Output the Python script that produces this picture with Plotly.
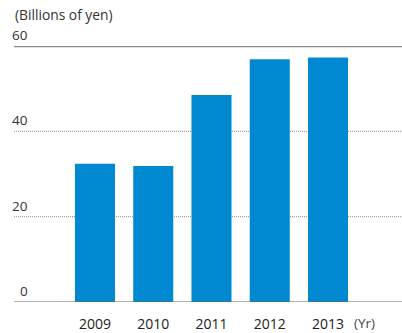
import plotly.graph_objects as go

years = ["2009", "2010", "2011", "2012", "2013"]
values = [32.4, 31.9, 48.5, 56.9, 57.3]
y_ticks = [0, 20, 40, 60]
y_tick_labels = ["0", "20", "40", "60"]

BAR = "#0088D1"
TXT = "#333333"
FONT = "Open Sans"

fig = go.Figure(go.Bar(x=list(range(len(years))), y=values, marker_color=BAR,
                       marker_line_width=0, width=0.687))

shapes = []
for v in [20, 40]:
    shapes.append(dict(type="line", xref="paper", x0=0, x1=1, yref="y", y0=v, y1=v,
                       line=dict(color="#8f8f8f", width=1, dash="1px,1px"), layer="below"))
shapes.append(dict(type="line", xref="paper", x0=0, x1=1, yref="y", y0=60, y1=60,
                   line=dict(color="#8c8c8c", width=2.5), layer="above"))
shapes.append(dict(type="line", xref="paper", x0=0, x1=1, yref="y", y0=0, y1=0,
                   line=dict(color="#666666", width=1), layer="above"))

annotations = []
for v, t in zip(y_ticks, y_tick_labels):
    annotations.append(dict(xref="paper", x=0, xshift=16, xanchor="right", yref="y", y=v,
                            yshift=11, yanchor="middle", text=t, showarrow=False,
                            font=dict(family=FONT, size=13.5, color=TXT)))
annotations.append(dict(xref="paper", x=0, xanchor="left", xshift=-1, yref="paper", y=1, yshift=32,
                        yanchor="middle", text="(Billions of yen)", showarrow=False,
                        font=dict(family=FONT, size=13.8, color=TXT)))
annotations.append(dict(xref="x", x=4.63, xanchor="center", yref="paper", y=0, yshift=-21,
                        yanchor="middle", text="(Yr)", showarrow=False,
                        font=dict(family=FONT, size=13.5, color="#444444")))

fig.update_layout(
    width=402, height=333,
    margin=dict(l=14, r=0, t=46, b=29),
    paper_bgcolor="white", plot_bgcolor="white",
    showlegend=False,
    shapes=shapes, annotations=annotations,
    xaxis=dict(range=[-1.39, 5.27], tickmode="array", tickvals=list(range(len(years))),
               ticktext=years, showgrid=False, zeroline=False, showline=False,
               ticks="", ticklabelstandoff=12,
               tickfont=dict(family=FONT, size=14, color="#222222")),
    yaxis=dict(range=[0, 60], showgrid=False, zeroline=False, showline=False,
               showticklabels=False, ticks=""),
)

fig.write_html("out.html")
